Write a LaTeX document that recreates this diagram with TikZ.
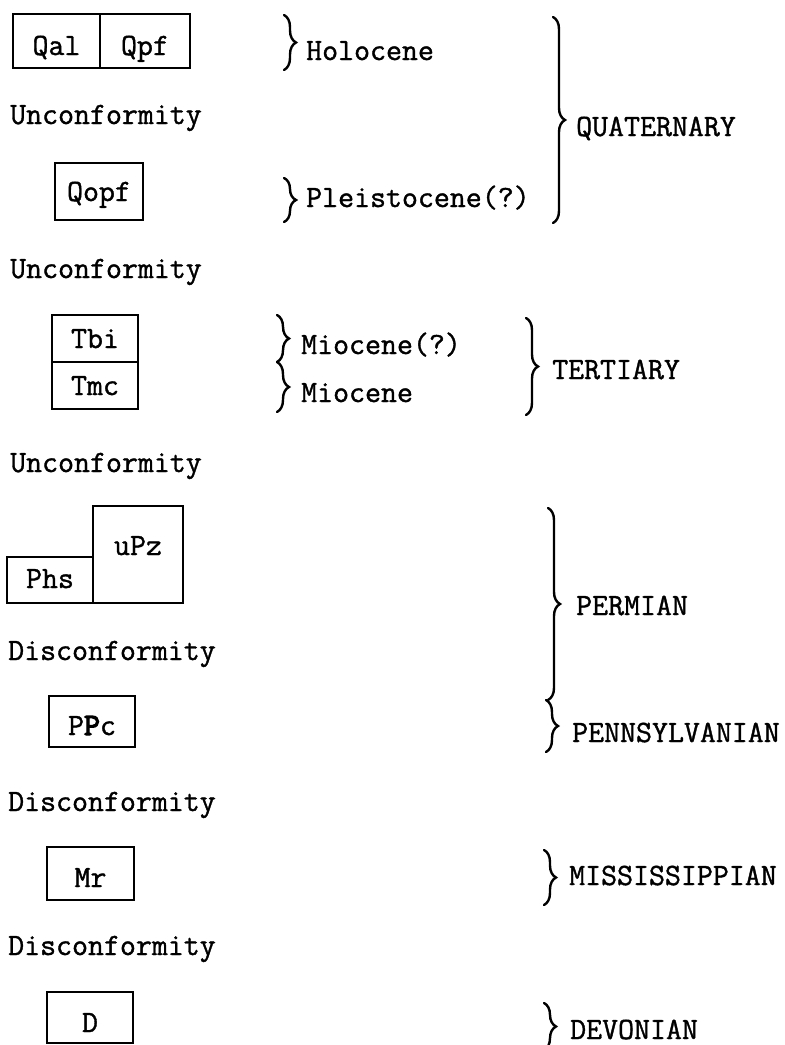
\documentclass[tikz,border=0pt]{standalone}
\usepackage{fontspec}
\usetikzlibrary{decorations.pathreplacing}
\newfontfamily\twf[FakeBold=1.2]{Latin Modern Mono}
\newfontfamily\twfb[FakeBold=4]{Latin Modern Mono}
\newcommand{\tx}{\twf\fontsize{31}{36}\selectfont}
\tikzset{
  box/.style={draw, line width=2.2pt, inner sep=0pt, font=\tx, anchor=center, text depth=0pt},
  th/.style={text height=#1},
  txt/.style={inner sep=0pt, anchor=base west, font=\tx},
  brc/.style={decorate, decoration={brace, amplitude=12pt}, line width=2.4pt, line cap=round}
}
\begin{document}
\begin{tikzpicture}[x=1pt,y=-1pt]
\useasboundingbox (0,0) rectangle (785,1045);
% boxes
\node[box, th=28pt, minimum width=87pt, minimum height=54pt] (qal) at (56.5,41) {Qal};
\node[box, th=28pt, minimum width=90pt, minimum height=54pt] (qpf) at (145,41) {Qpf};
\node[box, th=19pt, minimum width=88pt, minimum height=57pt] (qopf) at (99,191.5) {Qopf};
\node[box, th=19pt, minimum width=86pt, minimum height=47pt] (tbi) at (95,338.5) {Tbi};
\node[box, th=19pt, minimum width=86pt, minimum height=47pt] (tmc) at (95,385.5) {Tmc};
\node[box, th=1pt, minimum width=90pt, minimum height=97pt] (upz) at (138,554.5) {uPz};
\node[box, th=16pt, minimum width=86pt, minimum height=46pt] (phs) at (50,580) {Phs};
\node[box, th=27pt, minimum width=86pt, minimum height=51pt] (ppc) at (92,721.5) {P{\twfb\fontsize{31}{36}\selectfont P}c};
\node[box, th=27pt, minimum width=87pt, minimum height=53pt] (mr) at (90.5,873.5) {Mr};
\node[box, th=29pt, minimum width=86pt, minimum height=51pt] (dv) at (90,1017.5) {D};
% boundary labels
\node[txt] (u1) at (10,124) {Unconformity};
\node[txt] (u2) at (10,278) {Unconformity};
\node[txt] (u3) at (10,472) {Unconformity};
\node[txt] (d1) at (8,660) {Disconformity};
\node[txt] (d2) at (8,811) {Disconformity};
\node[txt] (d3) at (8,955) {Disconformity};
% epoch / period labels
\node[txt] (holo) at (306,60) {Holocene};
\node[txt] (plei) at (306,207) {Pleistocene(?)};
\node[txt] (quat) at (576,136) {QUATERNARY};
\node[txt] (mioq) at (301,354) {Miocene(?)};
\node[txt] (mio) at (301,402) {Miocene};
\node[txt] (tert) at (552,379) {TERTIARY};
\node[txt] (perm) at (576,615) {PERMIAN};
\node[txt] (penn) at (572,742) {PENNSYLVANIAN};
\node[txt] (miss) at (569,885) {MISSISSIPPIAN};
\node[txt] (devo) at (570,1039) {DEVONIAN};
% brace ends
\coordinate (b1a) at (284,15);  \coordinate (b1b) at (284,70);
\coordinate (b2a) at (284,178); \coordinate (b2b) at (284,222);
\coordinate (b3a) at (553,17);  \coordinate (b3b) at (553,223);
\coordinate (b4a) at (277,315); \coordinate (b4b) at (277,362);
\coordinate (b5a) at (277,362); \coordinate (b5b) at (277,412);
\coordinate (b6a) at (526,318); \coordinate (b6b) at (526,415);
\coordinate (b7a) at (548,508); \coordinate (b7b) at (548,700);
\coordinate (b8a) at (546,700); \coordinate (b8b) at (546,752);
\coordinate (b9a) at (544,850); \coordinate (b9b) at (544,905);
\coordinate (b10a) at (544,1003); \coordinate (b10b) at (544,1050);
\foreach \i in {1,...,10} { \draw[brc] (b\i a) -- (b\i b); }
\end{tikzpicture}
\end{document}
